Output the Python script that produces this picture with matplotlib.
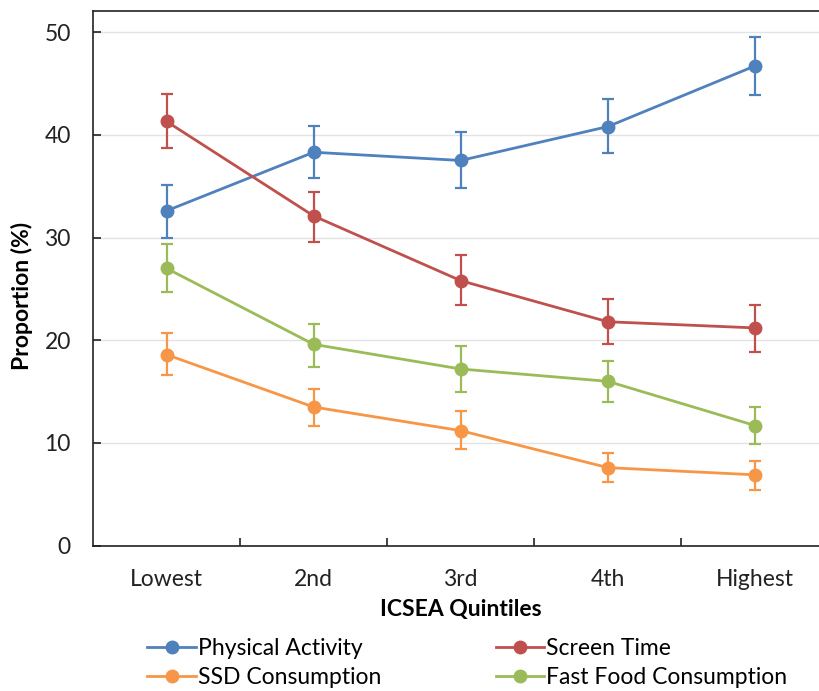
import numpy as np
import matplotlib
matplotlib.use("Agg")
import matplotlib.pyplot as plt
from matplotlib.ticker import FixedLocator
from matplotlib.lines import Line2D

plt.rcParams["font.family"] = ["Lato", "DejaVu Sans"]

# DATA
quintiles = ["Lowest", "2nd", "3rd", "4th", "Highest"]

physical_activity = [32.6, 38.3, 37.5, 40.8, 46.7]
physical_lo       = [30.0, 35.8, 34.8, 38.2, 43.9]
physical_hi       = [35.1, 40.9, 40.3, 43.5, 49.5]

screen_time = [41.3, 32.1, 25.8, 21.8, 21.2]
screen_lo   = [38.7, 29.6, 23.4, 19.6, 18.9]
screen_hi   = [44.0, 34.4, 28.3, 24.0, 23.4]

ssd = [18.6, 13.5, 11.2, 7.6, 6.9]
ssd_lo = [16.6, 11.7, 9.4, 6.2, 5.4]
ssd_hi = [20.7, 15.3, 13.1, 9.0, 8.2]

fast_food = [27.0, 19.6, 17.2, 16.0, 11.7]
fast_lo   = [24.7, 17.4, 15.0, 14.0, 9.9]
fast_hi   = [29.4, 21.6, 19.4, 18.0, 13.5]

# legend order: ncol=2 fills column-wise
series = [
    ("Physical Activity", physical_activity, physical_lo, physical_hi, "#4F81BD"),
    ("SSD Consumption", ssd, ssd_lo, ssd_hi, "#F79646"),
    ("Screen Time", screen_time, screen_lo, screen_hi, "#C0504D"),
    ("Fast Food Consumption", fast_food, fast_lo, fast_hi, "#9BBB59"),
]

FS = 16.5
fig = plt.figure(figsize=(8.19, 6.91), dpi=100)
W, H = 819, 691
# plot area runs off the right edge, like the cropped original
ax = fig.add_axes([93 / W, 1 - 545.7 / H, 735.5 / W, (545.7 - 11) / H])

x = np.arange(len(quintiles))
handles = []
for name, vals, lo, hi, color in series:
    vals = np.array(vals)
    yerr = [vals - np.array(lo), np.array(hi) - vals]
    ax.errorbar(x, vals, yerr=yerr, color=color, lw=2.0, marker="o",
                markersize=9, capsize=4, elinewidth=1.6, capthick=1.6, zorder=3)
    handles.append(Line2D([], [], color=color, lw=2.0, marker="o", markersize=9, label=name))

ax.set_xlim(-0.5, 4.5)
ax.set_ylim(0, 52.05)
ax.set_yticks([0, 10, 20, 30, 40, 50])
ax.set_xticks(x)
ax.set_xticklabels(quintiles)
ax.xaxis.set_minor_locator(FixedLocator([0.5, 1.5, 2.5, 3.5]))
ax.tick_params(axis="x", which="major", length=0, pad=17, labelsize=FS, colors="#222222")
ax.tick_params(axis="x", which="minor", direction="in", length=6, width=1.2, color="#222222")
ax.tick_params(axis="y", direction="in", length=6, width=1.2, pad=16, labelsize=FS,
               colors="#222222")

ax.grid(axis="y", color="#E3E3E3", lw=1.0, zorder=0)
ax.set_axisbelow(True)
for s in ax.spines.values():
    s.set_color("#222222")
    s.set_linewidth(1.2)
ax.spines["right"].set_visible(False)

ax.set_xlabel("ICSEA Quintiles", fontsize=FS, fontweight="bold", labelpad=6)
ax.set_ylabel("Proportion (%)", fontsize=FS, fontweight="bold")
ax.yaxis.set_label_coords(-(93 - 33) / 735.5, (545.7 - 296) / (545.7 - 11))

fig.legend(handles=handles, ncol=2, loc="upper left", bbox_to_anchor=(136 / W, 1 - 627 / H),
           frameon=False, fontsize=FS, handlelength=2.1, handletextpad=0.1,
           columnspacing=5.0, labelspacing=0.35, borderpad=0)

fig.savefig("out.png", dpi=100)
